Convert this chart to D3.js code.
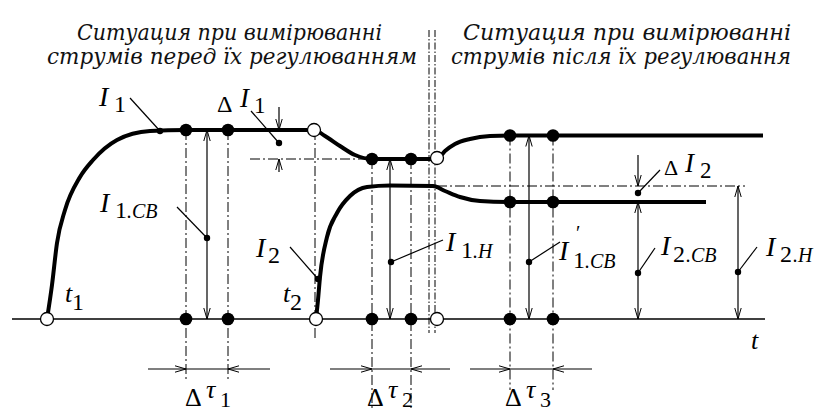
<!DOCTYPE html>
<html>
<head>
<meta charset="utf-8">
<script src="https://cdn.jsdelivr.net/npm/d3@7"></script>
<style>
body { margin: 0; background: #fff; }
</style>
</head>
<body>
<div class="chart"></div>
<script>
// all values in (time, current) units of the diagram
var titles = ["Ситуация при вимірюванні", "струмів перед їх регулюванням",
              "Ситуация при вимірюванні", "струмів після їх регулювання"];

// струм I1 (thick curve) and I2
var curveI1 = [[0,0],[0.5,3.4],[1,7.6],[1.8,10.9],[3.3,14.2],[4.6,15.9],[7,17.9],[10.3,18.8],[13.9,18.9],[26.7,18.9],
               [27.8,18.3],[29.3,17.3],[30.8,16.4],[32.5,16.0],[39,16.0],[39.8,16.8],[40.8,17.5],[42.3,18.0],[44.3,18.3],[46.3,18.35],[71.6,18.35]];
var curveI2 = [[26.9,0],[27.1,1.9],[27.3,4.2],[28,8.2],[29,10.6],[30.3,12.3],[32,13.2],[34.3,13.35],[38.6,13.3],
               [39.8,12.8],[41.3,12.2],[43.3,11.8],[46,11.7],[65.9,11.7]];

var axisT = [-3.5, 71.8];
var openPts = [[0,0],[26.9,0],[39,0],[26.7,18.9],[39,16.1]];
var measT = [13.9, 18.1, 32.5, 36.4, 46.3, 50.6];
var measI = [18.9, 18.9, 16.0, 16.0, 18.35, 18.35];
var measI2 = [[46.3,11.7],[50.6,11.7]];

// vertical dash-dot guides: t, from I, to I
var guides = [[13.9,18.9,-6.3],[18.1,18.9,-6.3],[26.8,18.9,-1.9],[32.5,16.0,-9.1],[36.4,16.0,-9.1],[46.3,18.35,-7.1],[50.6,18.35,-7.1]];
var separator = [38.2, 38.8];
var separatorI = [28.9, -1.4];
// horizontal dash-dot: I, from t, to t
var hGuides = [[16.0,20.3,32.5],[13.3,39,69.8]];

// double-headed current arrows: t, I top
var currArrows = [[16.0,18.9],[34.3,16.0],[48.2,18.35],[59.1,11.7],[69.1,13.3]];
// delta I arrows: t, from, to
var deltaArrows = [[23.2,21.2,18.9],[23.2,14.7,16.0],[59.1,16.4,13.3]];
// Δτ windows: outer left, left, right, outer right
var tauWin = [[10.1,13.9,18.1,22.3],[28.3,32.5,36.4,40.3],[42.3,46.3,50.6,54.5]];
var tauI = -5.0;

// leaders: dot, end
var leaders = [[[11.3,18.8],[8.3,22.1]], [[23.2,17.6],[20.4,20.8]], [[16,8.1],[13,11.2]], [[27.1,4.0],[24.3,7.2]],
               [[34.4,5.7],[39.6,7.9]], [[48.2,5.7],[51.3,7.7]], [[59.1,12.6],[61.3,14.9]], [[59.1,4.6],[60.8,7.1]], [[69.1,4.7],[71,7.2]]];

// label parts: text, t, I, size, italic
var labels = [
  [["I",5.2,21.3,28,1],["1",6.7,20.7,24,0]],
  [["Δ",17.0,20.7,24,0],["I",19.3,21.2,27,1],["1",20.7,20.6,23,0]],
  [["I",5.3,10.7,28,1],["1",6.8,10.1,24,0],[".CB",8.0,10.1,20,1]],
  [["I",20.9,6.2,28,1],["2",22.1,5.6,24,0]],
  [["t",1.8,1.7,26,1],["1",2.5,0.9,24,0]],
  [["t",23.6,1.7,26,1],["2",24.3,0.9,24,0]],
  [["I",39.9,6.8,28,1],["1",41.4,6.1,24,0],[".H",42.6,6.1,20,1]],
  [["I",51.2,5.9,28,1],["′",52.9,7.9,20,0],["1",52.6,5.1,24,0],[".CB",53.8,5.1,20,1]],
  [["Δ",61.7,14.4,22,0],["I",63.8,14.7,27,1],["2",65.3,14.1,23,0]],
  [["I",61.4,6.4,28,1],["2",62.6,5.7,24,0],[".CB",63.9,5.7,20,1]],
  [["I",71.9,6.3,28,1],["2",73.3,5.7,24,0],[".H",74.6,5.7,20,1]],
  [["Δ",13.8,-8.7,26,0],["τ",15.9,-7.9,26,1],["1",17.3,-8.8,22,0]],
  [["Δ",32.0,-8.7,26,0],["τ",34.1,-7.9,26,1],["2",35.5,-8.8,22,0]],
  [["Δ",45.8,-8.7,26,0],["τ",47.9,-7.9,26,1],["3",49.3,-8.8,22,0]],
  [["t",70.4,-3.0,26,1]]
];

var x = d3.scaleLinear().domain([0, 72]).range([47, 767]);
var y = d3.scaleLinear().domain([0, 30]).range([319, 19]);

var svg = d3.select(".chart")
            .append("svg")
            .attr("width", 824)
            .attr("height", 412);

var defs = svg.append("defs");
defs.append("marker")
    .attr("id", "arr")
    .attr("viewBox", "-12 -4 13 8")
    .attr("refX", 0)
    .attr("refY", 0)
    .attr("markerWidth", 13)
    .attr("markerHeight", 8)
    .attr("markerUnits", "userSpaceOnUse")
    .attr("orient", "auto-start-reverse")
  .append("path")
    .attr("d", "M-11,-3.2L0,0L-11,3.2")
    .attr("fill", "none")
    .attr("stroke", "black")
    .attr("stroke-width", 1);

// titles
var titlePos = [[77, 40, 305], [47, 64, 370], [463, 40, 328], [451, 64, 340]];
for (var i = 0; i < 4; i++) {
    svg.append("text")
        .attr("x", titlePos[i][0])
        .attr("y", titlePos[i][1])
        .attr("textLength", titlePos[i][2])
        .attr("lengthAdjust", "spacingAndGlyphs")
        .text(titles[i])
        .style("font-size", "22px")
        .style("font-style", "italic")
        .style("font-family", "'DejaVu Serif', serif")
        .attr("fill", "#111");
}

// separator
separator.forEach(function(t) {
    svg.append("line")
        .attr("x1", x(t)).attr("x2", x(t))
        .attr("y1", y(separatorI[0])).attr("y2", y(separatorI[1]))
        .style("stroke", "black")
        .style("stroke-width", 1)
        .style("stroke-dasharray", "7,2,1.5,2");
});

// dash-dot guides
guides.forEach(function(g) {
    svg.append("line")
        .attr("x1", x(g[0])).attr("x2", x(g[0]))
        .attr("y1", y(g[1])).attr("y2", y(g[2]))
        .style("stroke", "black")
        .style("stroke-width", 1)
        .style("stroke-dasharray", "10,3,2,3");
});
hGuides.forEach(function(g) {
    svg.append("line")
        .attr("x1", x(g[1])).attr("x2", x(g[2]))
        .attr("y1", y(g[0])).attr("y2", y(g[0]))
        .style("stroke", "black")
        .style("stroke-width", 1)
        .style("stroke-dasharray", "10,3,2,3");
});

// time axis
svg.append("line")
    .attr("x1", x(axisT[0])).attr("x2", x(axisT[1]))
    .attr("y1", y(0)).attr("y2", y(0))
    .style("stroke", "black")
    .style("stroke-width", 1.6);

// current arrows
currArrows.forEach(function(a) {
    svg.append("line")
        .attr("x1", x(a[0])).attr("x2", x(a[0]))
        .attr("y1", y(0)).attr("y2", y(a[1]))
        .style("stroke", "black")
        .style("stroke-width", 1.2)
        .attr("marker-start", "url(#arr)")
        .attr("marker-end", "url(#arr)");
});
deltaArrows.forEach(function(a) {
    svg.append("line")
        .attr("x1", x(a[0])).attr("x2", x(a[0]))
        .attr("y1", y(a[1])).attr("y2", y(a[2]))
        .style("stroke", "black")
        .style("stroke-width", 1.2)
        .attr("marker-end", "url(#arr)");
});

// Δτ windows
tauWin.forEach(function(w) {
    svg.append("line")
        .attr("x1", x(w[1])).attr("x2", x(w[2]))
        .attr("y1", y(tauI)).attr("y2", y(tauI))
        .style("stroke", "black").style("stroke-width", 1.2);
    svg.append("line")
        .attr("x1", x(w[0])).attr("x2", x(w[1]))
        .attr("y1", y(tauI)).attr("y2", y(tauI))
        .style("stroke", "black").style("stroke-width", 1.2)
        .attr("marker-end", "url(#arr)");
    svg.append("line")
        .attr("x1", x(w[3])).attr("x2", x(w[2]))
        .attr("y1", y(tauI)).attr("y2", y(tauI))
        .style("stroke", "black").style("stroke-width", 1.2)
        .attr("marker-end", "url(#arr)");
});

// curves
var line = d3.line()
    .x(function(d) { return x(d[0]); })
    .y(function(d) { return y(d[1]); })
    .curve(d3.curveMonotoneX);

[curveI1, curveI2].forEach(function(c) {
    svg.append("path")
        .attr("d", line(c))
        .attr("fill", "none")
        .style("stroke", "black")
        .style("stroke-width", 4);
});

// leaders
leaders.forEach(function(l) {
    svg.append("line")
        .attr("x1", x(l[0][0])).attr("y1", y(l[0][1]))
        .attr("x2", x(l[1][0])).attr("y2", y(l[1][1]))
        .style("stroke", "black").style("stroke-width", 1.2);
    svg.append("circle")
        .attr("cx", x(l[0][0])).attr("cy", y(l[0][1]))
        .attr("r", 3.2).attr("fill", "black");
});

// measuring points
for (var i = 0; i < measT.length; i++) {
    svg.append("circle").attr("cx", x(measT[i])).attr("cy", y(0)).attr("r", 6.3).attr("fill", "black");
    svg.append("circle").attr("cx", x(measT[i])).attr("cy", y(measI[i])).attr("r", 6.3).attr("fill", "black");
}
measI2.forEach(function(p) {
    svg.append("circle").attr("cx", x(p[0])).attr("cy", y(p[1])).attr("r", 6.3).attr("fill", "black");
});

openPts.forEach(function(p) {
    svg.append("circle")
        .attr("cx", x(p[0])).attr("cy", y(p[1]))
        .attr("r", 6.5)
        .attr("fill", "white")
        .style("stroke", "black")
        .style("stroke-width", 1.3);
});

// labels
labels.forEach(function(lb) {
    lb.forEach(function(p) {
        svg.append("text")
            .attr("x", x(p[1]))
            .attr("y", y(p[2]))
            .text(p[0])
            .style("font-size", p[3] + "px")
            .style("font-style", p[4] ? "italic" : "normal")
            .style("font-family", "'Liberation Serif', 'Times New Roman', serif")
            .attr("fill", "black");
    });
});
</script>
</body>
</html>
